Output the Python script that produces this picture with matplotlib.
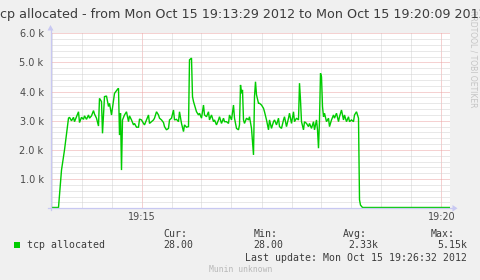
import matplotlib
matplotlib.use("Agg")
import matplotlib.pyplot as plt
from matplotlib.patches import Rectangle, Polygon
from matplotlib.lines import Line2D

# ---------------- data ----------------
series_name = "tcp allocated"
series_color = "#00cc00"

# seconds since 19:13:29
secs = [0, 8, 11, 14, 18, 19, 21, 23, 24, 26, 28, 29, 31, 33, 34, 36, 38, 39, 41, 43,
        44, 46, 48, 49, 51, 52, 54, 56, 58, 59, 61, 63, 64, 67, 68, 69, 70, 71, 72, 74,
        76, 78, 79, 81, 83, 84, 86, 88, 89, 91, 93, 94, 96, 98, 99, 101, 103, 104, 106, 108,
        109, 111, 113, 114, 116, 118, 119, 121, 123, 124, 126, 128, 129, 131, 133, 134, 136, 138, 139, 141,
        142, 143, 146, 148, 149, 151, 153, 154, 156, 158, 159, 161, 163, 164, 166, 168, 169, 171, 173, 174,
        176, 178, 179, 181, 183, 184, 186, 188, 189, 190, 191, 192, 193, 194, 196, 198, 199, 201, 203, 204,
        205, 206, 208, 209, 211, 213, 214, 216, 218, 219, 221, 223, 224, 226, 228, 229, 231, 233, 234, 236,
        238, 239, 241, 243, 244, 246, 248, 249, 250, 251, 253, 254, 256, 258, 259, 261, 263, 264, 266, 267,
        268, 269, 270, 271, 272, 273, 274, 276, 278, 279, 281, 283, 284, 286, 288, 289, 291, 293, 294, 296,
        298, 299, 301, 303, 304, 306, 308, 309, 310, 312, 400]
values = [28, 28, 1310, 2000, 3090, 3120, 3000, 3120, 2970, 3140, 3310, 2940, 3120, 3050, 3170, 3050, 3200, 3090, 3170, 3350,
          3230, 3090, 2820, 3770, 3660, 2570, 3830, 3850, 3490, 3600, 3200, 3710, 3940, 4080, 4110, 2510, 3260, 1310, 3030, 3200,
          3310, 2970, 3170, 3030, 2860, 2910, 2780, 2780, 3060, 3030, 2910, 2860, 3030, 3200, 2910, 2970, 3030, 3090, 3310, 3200,
          3090, 3030, 2940, 2800, 2690, 2740, 3030, 3090, 3370, 3030, 3050, 2970, 3310, 2910, 2630, 2860, 2780, 2800, 5090, 5150,
          3830, 3660, 3310, 3200, 3260, 3090, 3540, 3200, 3140, 3310, 3030, 3200, 2970, 3030, 2860, 3030, 3140, 2910, 3090, 2970,
          2970, 2910, 3200, 3030, 3540, 3090, 2740, 2690, 2860, 4230, 3940, 4060, 3030, 2910, 3090, 3030, 3140, 2740, 1830, 3830,
          4340, 3890, 3600, 3600, 3540, 3430, 3310, 3030, 2690, 3030, 2740, 2970, 3030, 2860, 3090, 2800, 2740, 3030, 3140, 2800,
          3090, 3260, 2910, 3310, 2970, 3090, 3030, 4290, 3710, 2970, 2690, 2970, 2910, 2800, 2910, 2740, 2970, 2690, 3030, 2690,
          2060, 3030, 4630, 4510, 3490, 3140, 3260, 2970, 3090, 2800, 3030, 3200, 3090, 3260, 2970, 3140, 3370, 3030, 3200, 2970,
          3140, 2970, 3030, 2970, 3200, 3310, 3090, 290, 110, 28, 28]

y_ticks = [0, 1000, 2000, 3000, 4000, 5000, 6000]
y_tick_labels = ["", "1.0 k", "2.0 k", "3.0 k", "4.0 k", "5.0 k", "6.0 k"]
y_minor_step = 200
x_ticks = [91, 391]
x_tick_labels = ["19:15", "19:20"]
x_minor_step = 30
x_range = (0, 400)
y_range = (0, 6000)

title = "tcp allocated - from Mon Oct 15 19:13:29 2012 to Mon Oct 15 19:20:09 2012"
stat_names = ["Cur:", "Min:", "Avg:", "Max:"]
stat_values = ["28.00", "28.00", "2.33k", "5.15k"]
last_update = "Last update: Mon Oct 15 19:26:32 2012"
footer = "Munin unknown"
watermark = "RRDTOOL / TOBI OETIKER"

# ---------------- layout ----------------
W, H = 481, 280
BG = "#f0f0f0"
TEXT = "#3c3c3c"
AXIS = "#c8c8f2"
GRID = "#d2d2d2"
MGRID = "#eca4a4"


def fx(x):
    return x / W


def fy(y):
    return 1 - y / H


fig = plt.figure(figsize=(W / 100, H / 100), dpi=100, facecolor=BG)

left_px, right_px, top_px, bot_px = 50.5, 450.5, 33.3, 208.3
ax = fig.add_axes([fx(left_px), fy(bot_px), (right_px - left_px) / W, (bot_px - top_px) / H])
ax.set_facecolor("white")
ax.set_xlim(*x_range)
ax.set_ylim(*y_range)
for s in ax.spines.values():
    s.set_visible(False)

ax.set_yticks(y_ticks)
ax.set_yticklabels(y_tick_labels)
ax.set_yticks(list(range(y_range[0], y_range[1] + 1, y_minor_step)), minor=True)
ax.set_xticks(x_ticks)
ax.set_xticklabels(x_tick_labels)
ax.set_xticks(list(range(x_ticks[0] % x_minor_step, x_range[1] + 1, x_minor_step)), minor=True)

ax.tick_params(which="both", length=0)
ax.tick_params(axis="y", which="major", pad=5.0, labelsize=7.0, labelcolor="#4a4a4a")
ax.tick_params(axis="x", which="major", pad=3.0, labelsize=6.9, labelcolor="#4a4a4a")
for lab in ax.get_yticklabels() + ax.get_xticklabels():
    lab.set_family("DejaVu Sans")

ax.grid(True, which="minor", color=GRID, linestyle=(0, (1, 1)), linewidth=0.72)
ax.grid(True, which="major", color=MGRID, linestyle=(0, (1, 1)), linewidth=0.72)
ax.set_axisbelow(True)

ax.plot(secs, values, color=series_color, linewidth=1.0, zorder=3, solid_joinstyle="miter")

# axes with arrows
fig.add_artist(Line2D([fx(48), fx(454)], [fy(bot_px), fy(bot_px)], color=AXIS, lw=0.9))
fig.add_artist(Line2D([fx(left_px), fx(left_px)], [fy(bot_px + 2), fy(29)], color=AXIS, lw=0.9))
fig.add_artist(Polygon([(fx(452.5), fy(205)), (fx(452.5), fy(211.5)), (fx(457.5), fy(208.3))],
                       closed=True, facecolor=AXIS, edgecolor="none"))
fig.add_artist(Polygon([(fx(47.5), fy(30.5)), (fx(53.5), fy(30.5)), (fx(50.5), fy(25))],
                       closed=True, facecolor=AXIS, edgecolor="none"))

# watermark
fig.text(fx(473), fy(9.5), watermark, rotation=270, ha="center", va="top",
         fontsize=5.5, color="#c4c4c4", family="DejaVu Sans")

# title
fig.text(fx(-4.8), fy(17.7), title, ha="left", va="baseline", fontsize=9.2,
         color=TEXT, family="DejaVu Sans", zorder=10)

# legend
mono = "DejaVu Sans Mono"
fig.add_artist(Rectangle((fx(14.2), fy(247.8)), 5.6 / W, 5.6 / H, facecolor=series_color, edgecolor="none"))
fig.text(fx(27), fy(248.3), series_name, ha="left", va="baseline", fontsize=7.1, color=TEXT, family=mono)
name_x = [163.3, 253.5, 343.2, 431.0]
val_right = [193.5, 283.5, 378.5, 467.0]
for nx, name in zip(name_x, stat_names):
    fig.text(fx(nx), fy(236.7), name, ha="left", va="baseline", fontsize=7.1, color=TEXT, family=mono)
for vx, val in zip(val_right, stat_values):
    fig.text(fx(vx), fy(248.5), val, ha="right", va="baseline", fontsize=7.1, color=TEXT, family=mono)
fig.text(fx(467.5), fy(260.6), last_update, ha="right", va="baseline", fontsize=7.1, color=TEXT, family=mono)
fig.text(fx(240.5), fy(272), footer, ha="center", va="baseline", fontsize=5.8, color="#b8b8b8", family=mono)

fig.savefig("out.png", dpi=100, facecolor=BG)
